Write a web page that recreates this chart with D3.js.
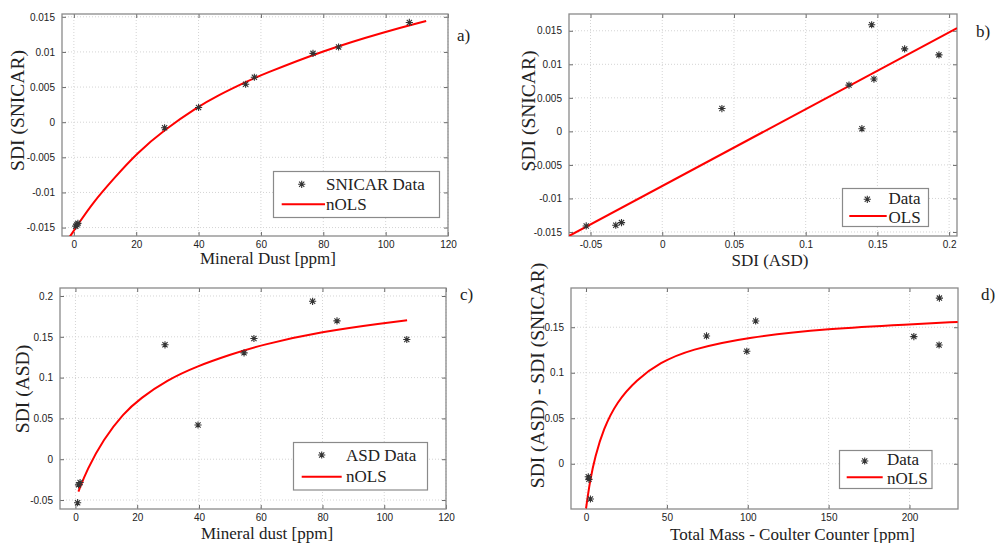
<!DOCTYPE html>
<html>
<head>
<meta charset="utf-8">
<script src="https://cdn.jsdelivr.net/npm/d3@7"></script>
<style>
  body { margin: 0; background: #fff; }
  svg text { fill: #222; }
  .tick-label { font-family: 'Liberation Sans', Arial, sans-serif; font-size: 10px; }
  .label { font-family: 'Liberation Serif', 'Times New Roman', serif; }
</style>
</head>
<body>
<svg id="chart" width="997" height="543"></svg>
<script>
// panel a) SDI (SNICAR) vs mineral dust
var dustA = [0.6, 1.0, 1.3, 29.1, 40.0, 55.1, 57.9, 76.7, 84.9, 107.6];
var snicarA = [-0.0148, -0.0146, -0.0144, -0.0008, 0.0021, 0.0054, 0.0064, 0.0098, 0.0107, 0.0142];
var fitAx = [-1.3, 1.4, 6.2, 12.65, 20.2, 29.3, 39.5, 46.5, 55, 60, 80, 100, 113];
var fitAy = [-0.0163, -0.0145, -0.0114, -0.0081, -0.0044, -0.0010, 0.00213, 0.00388, 0.0057, 0.0067, 0.0102, 0.0129, 0.0144];

// panel b) SDI (SNICAR) vs SDI (ASD)
var asdB = [-0.053, -0.0324, -0.0284, 0.0416, 0.1302, 0.1392, 0.146, 0.1476, 0.169, 0.1929];
var snicarB = [-0.0141, -0.0140, -0.0136, 0.0034, 0.0069, 0.0004, 0.0159, 0.0078, 0.0123, 0.0114];
var olsBx = [-0.065, 0.2055];
var olsBy = [-0.0156, 0.0154];

// panel c) SDI (ASD) vs mineral dust
var dustC = [0.7, 1.0, 1.5, 29.0, 39.7, 54.6, 57.8, 76.8, 84.7, 107.3];
var asdC = [-0.0533, -0.0314, -0.0286, 0.1402, 0.0419, 0.1303, 0.1479, 0.1935, 0.1695, 0.1467];
var fitCx = [0.97, 3.7, 9.08, 15.56, 20.97, 29.6, 39.35, 50, 60, 80, 100, 107.4];
var fitCy = [-0.0396, -0.0131, 0.0244, 0.0562, 0.0745, 0.0969, 0.1140, 0.1280, 0.1400, 0.1565, 0.1668, 0.1703];

// panel d) SDI difference vs total mass
var massD = [1.4, 1.8, 2.7, 74.5, 99.4, 104.9, 202.7, 218.5, 218.3];
var diffD = [-0.0143, -0.0171, -0.0387, 0.1404, 0.1236, 0.1569, 0.1397, 0.182, 0.1305];
var fitDx = [0, 2.5, 5.6, 10.7, 19.0, 31.3, 45.7, 64.2, 100, 150, 200, 229.8];
var fitDy = [-0.0489, -0.0179, 0.0077, 0.0380, 0.0680, 0.0925, 0.1112, 0.1255, 0.1393, 0.1485, 0.1532, 0.1558];

// tick values
var ticksDust = [0, 20, 40, 60, 80, 100, 120];
var ticksSnicar = [-0.015, -0.01, -0.005, 0, 0.005, 0.01, 0.015];
var ticksAsdX = [-0.05, 0, 0.05, 0.1, 0.15, 0.2];
var ticksAsdY = [-0.05, 0, 0.05, 0.1, 0.15, 0.2];
var ticksMass = [0, 50, 100, 150, 200];
var ticksDiff = [0, 0.05, 0.1, 0.15];

var panels = [
  {
    id: 'a', box: [62, 14, 448, 236], xDomain: [-3.8, 120], yDomain: [-0.0162, 0.0154],
    xTicks: ticksDust, yTicks: ticksSnicar,
    px: dustA, py: snicarA, fx: fitAx, fy: fitAy,
    xLabel: 'Mineral Dust [ppm]', xLabelPos: [268, 264],
    yLabel: 'SDI (SNICAR)', yLabelPos: [24, 110.5],
    tag: 'a)', tagPos: [457, 41],
    legend: { box: [273.5, 171.5, 166, 46], names: ['SNICAR Data', 'nOLS'], star: [301.7, 184.3],
              line: [281.7, 325, 204.3], textX: 326, base: [190, 210] }
  },
  {
    id: 'b', box: [569, 14, 957, 236], xDomain: [-0.065, 0.2055], yDomain: [-0.0156, 0.0175],
    xTicks: ticksAsdX, yTicks: ticksSnicar,
    px: asdB, py: snicarB, fx: olsBx, fy: olsBy,
    xLabel: 'SDI (ASD)', xLabelPos: [770, 266],
    yLabel: 'SDI (SNICAR)', yLabelPos: [535, 111],
    tag: 'b)', tagPos: [976, 37],
    legend: { box: [842.5, 188.5, 86, 38], names: ['Data', 'OLS'], star: [867.3, 199.3],
              line: [849.3, 886.7, 216], textX: 888.5, base: [203.5, 222.5] }
  },
  {
    id: 'c', box: [60, 288, 446, 509], xDomain: [-5, 120], yDomain: [-0.061, 0.2098],
    xTicks: ticksDust, yTicks: ticksAsdY,
    px: dustC, py: asdC, fx: fitCx, fy: fitCy,
    xLabel: 'Mineral dust [ppm]', xLabelPos: [267, 539],
    yLabel: 'SDI (ASD)', yLabelPos: [28.5, 389],
    tag: 'c)', tagPos: [460, 300],
    legend: { box: [293.5, 442.5, 134, 47.5], names: ['ASD Data', 'nOLS'], star: [321.7, 455],
              line: [301.7, 341.7, 476.7], textX: 346, base: [460.5, 481.5] }
  },
  {
    id: 'd', box: [571, 288, 958, 509], xDomain: [-9.3, 230], yDomain: [-0.0497, 0.1931],
    xTicks: ticksMass, yTicks: ticksDiff,
    px: massD, py: diffD, fx: fitDx, fy: fitDy,
    xLabel: 'Total Mass - Coulter Counter [ppm]', xLabelPos: [792.5, 540],
    yLabel: 'SDI (ASD) - SDI (SNICAR)', yLabelPos: [543.5, 375.5],
    tag: 'd)', tagPos: [981, 300],
    legend: { box: [839.5, 450.5, 92.5, 38], names: ['Data', 'nOLS'], star: [864.7, 461],
              line: [846.7, 882.7, 477.3], textX: 887, base: [465, 484] }
  }
];

var svg = d3.select('#chart');

function fmt(v) {
  return String(+v.toFixed(4));
}

// MATLAB '*' marker: plus and cross overlaid
function starPath(r) {
  var d = r * 0.72;
  return 'M' + (-r) + ',0L' + r + ',0M0,' + (-r) + 'L0,' + r +
    'M' + (-d) + ',' + (-d) + 'L' + d + ',' + d +
    'M' + (-d) + ',' + d + 'L' + d + ',' + (-d);
}

function drawPanel(p) {
  var x0 = p.box[0], y0 = p.box[1], x1 = p.box[2], y1 = p.box[3];
  var x = d3.scaleLinear().domain(p.xDomain).range([x0, x1]);
  var y = d3.scaleLinear().domain(p.yDomain).range([y1, y0]);
  var g = svg.append('g').attr('class', 'panel-' + p.id);

  g.append('clipPath').attr('id', 'clip-' + p.id)
    .append('rect').attr('x', x0).attr('y', y0)
    .attr('width', x1 - x0).attr('height', y1 - y0);

  g.append('rect').attr('x', x0).attr('y', y0)
    .attr('width', x1 - x0).attr('height', y1 - y0).attr('fill', '#fff');

  // dotted grid
  g.append('g').selectAll('line').data(p.xTicks).enter().append('line')
    .attr('x1', function(d) { return x(d); }).attr('x2', function(d) { return x(d); })
    .attr('y1', y0).attr('y2', y1)
    .attr('stroke', '#d4d4d4').attr('stroke-dasharray', '1,2');
  g.append('g').selectAll('line').data(p.yTicks).enter().append('line')
    .attr('y1', function(d) { return y(d); }).attr('y2', function(d) { return y(d); })
    .attr('x1', x0).attr('x2', x1)
    .attr('stroke', '#d4d4d4').attr('stroke-dasharray', '1,2');

  // axes: inward ticks on all four sides
  var tl = -4;
  g.append('g').attr('transform', 'translate(0,' + y1 + ')')
    .call(d3.axisBottom(x).tickValues(p.xTicks).tickSizeInner(tl).tickSizeOuter(0)
      .tickPadding(5).tickFormat(fmt));
  g.append('g').attr('transform', 'translate(0,' + y0 + ')')
    .call(d3.axisTop(x).tickValues(p.xTicks).tickSizeInner(tl).tickSizeOuter(0).tickFormat(''));
  g.append('g').attr('transform', 'translate(' + x0 + ',0)')
    .call(d3.axisLeft(y).tickValues(p.yTicks).tickSizeInner(tl).tickSizeOuter(0)
      .tickPadding(7).tickFormat(fmt));
  g.append('g').attr('transform', 'translate(' + x1 + ',0)')
    .call(d3.axisRight(y).tickValues(p.yTicks).tickSizeInner(tl).tickSizeOuter(0).tickFormat(''));
  g.selectAll('.domain').remove();
  g.selectAll('.tick line').attr('stroke', '#6a6a6a');
  g.selectAll('.tick text').attr('class', 'tick-label').attr('fill', '#222');

  g.append('rect').attr('x', x0).attr('y', y0)
    .attr('width', x1 - x0).attr('height', y1 - y0)
    .attr('fill', 'none').attr('stroke', '#8a8a8a').attr('stroke-width', 1.3);

  // fitted curve
  var fit = p.fx.map(function(v, i) { return [v, p.fy[i]]; });
  g.append('path').datum(fit)
    .attr('clip-path', 'url(#clip-' + p.id + ')')
    .attr('fill', 'none').attr('stroke', '#f00').attr('stroke-width', 2)
    .attr('d', d3.line()
      .x(function(d) { return x(d[0]); })
      .y(function(d) { return y(d[1]); })
      .curve(d3.curveBasis));

  // data points
  var pts = p.px.map(function(v, i) { return [v, p.py[i]]; });
  g.append('g').selectAll('path').data(pts).enter().append('path')
    .attr('transform', function(d) { return 'translate(' + x(d[0]) + ',' + y(d[1]) + ')'; })
    .attr('d', starPath(3.6))
    .attr('fill', 'none').attr('stroke', '#333').attr('stroke-width', 1.1);

  // legend
  var L = p.legend;
  g.append('rect').attr('x', L.box[0]).attr('y', L.box[1])
    .attr('width', L.box[2]).attr('height', L.box[3])
    .attr('fill', '#fff').attr('stroke', '#8a8a8a').attr('stroke-width', 1.2);
  g.append('path').attr('transform', 'translate(' + L.star[0] + ',' + L.star[1] + ')')
    .attr('d', starPath(3.6)).attr('fill', 'none').attr('stroke', '#333').attr('stroke-width', 1.1);
  g.append('line').attr('x1', L.line[0]).attr('x2', L.line[1])
    .attr('y1', L.line[2]).attr('y2', L.line[2])
    .attr('stroke', '#f00').attr('stroke-width', 2);
  L.names.forEach(function(name, i) {
    g.append('text').attr('class', 'label').attr('x', L.textX).attr('y', L.base[i])
      .attr('font-size', 17).text(name);
  });

  // axis labels and panel tag
  g.append('text').attr('class', 'label')
    .attr('x', p.xLabelPos[0]).attr('y', p.xLabelPos[1])
    .attr('text-anchor', 'middle').attr('font-size', 17).text(p.xLabel);
  g.append('text').attr('class', 'label')
    .attr('transform', 'translate(' + p.yLabelPos[0] + ',' + p.yLabelPos[1] + ') rotate(-90)')
    .attr('text-anchor', 'middle').attr('font-size', 19.5).text(p.yLabel);
  g.append('text').attr('class', 'label')
    .attr('x', p.tagPos[0]).attr('y', p.tagPos[1])
    .attr('font-size', 17).text(p.tag);
}

panels.forEach(drawPanel);
</script>
</body>
</html>
